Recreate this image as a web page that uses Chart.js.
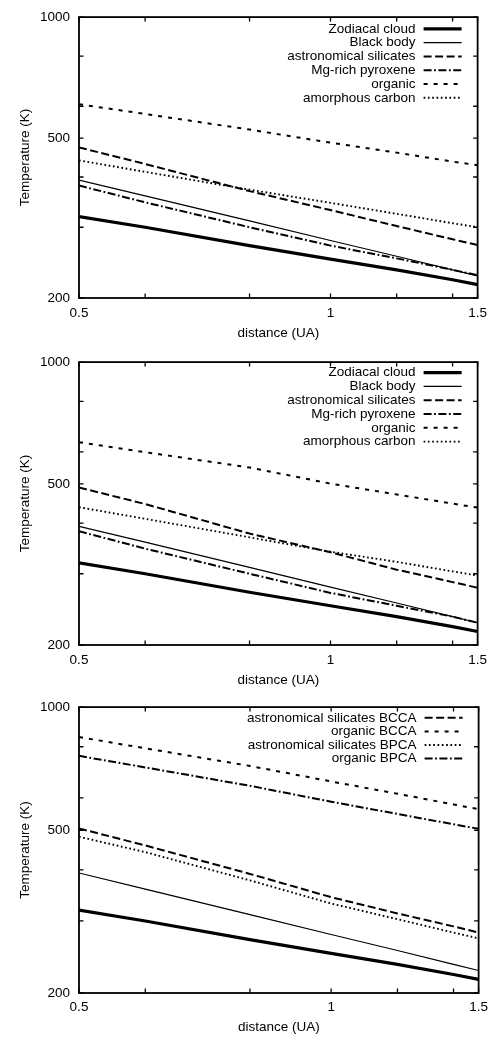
<!DOCTYPE html>
<html><head><meta charset="utf-8">
<script src="https://cdn.jsdelivr.net/npm/chart.js@4/dist/chart.umd.min.js"></script>
<style>
html,body{margin:0;padding:0;background:#fff;}
#wrap{position:relative;width:494px;height:1037px;overflow:hidden;}
canvas{position:absolute;left:0;}
</style></head><body>
<div id="wrap">
<canvas id="c1" width="494" height="345" style="top:0px"></canvas>
<canvas id="c2" width="494" height="345" style="top:345px"></canvas>
<canvas id="c3" width="494" height="347" style="top:690px"></canvas>
</div>
<script>
// ---- data (distance in UA, temperature in K) ----
const distances = [0.5, 0.6, 0.8, 1.0, 1.2, 1.4, 1.5];

const xTickValues = [0.5, 0.6, 0.8, 1, 1.2, 1.4, 1.5];
const xTickLabels = ['0.5', '', '', '1', '', '', '1.5'];
const yTickValues = [200, 300, 400, 500, 600, 800, 1000];
const yTickLabels = ['200', '', '', '500', '', '', '1000'];

const zodiacalCloud = [319, 300, 270, 250, 235, 222, 216];
const blackBody     = [393, 359, 311, 278, 254, 235, 227];

// panel 1
const p1Silicates = [474, 431, 369, 331, 302, 280, 271];
const p1Pyroxene  = [381, 346, 300, 270, 251, 235, 228];
const p1Organic   = [607, 574, 525, 487, 460, 437, 428];
const p1Carbon    = [440, 412, 372, 345, 324, 307, 300];

// panel 2
const p2Silicates = [490, 446, 377, 339, 307, 286, 277];
const p2Pyroxene  = [382, 346, 300, 269, 250, 235, 227];
const p2Organic   = [634, 599, 549, 501, 471, 447, 437];
const p2Carbon    = [438, 410, 369, 340, 321, 304, 297];

// panel 3
const p3SilicatesBCCA = [505, 459, 391, 343, 313, 291, 281];
const p3OrganicBCCA   = [845, 793, 718, 658, 614, 578, 563];
const p3SilicatesBPCA = [482, 442, 377, 331, 303, 281, 272];
const p3OrganicBPCA   = [760, 712, 642, 587, 548, 517, 504];

// ---- styles ----
const FONT = '"Liberation Sans", Arial, Helvetica, sans-serif';
const FS = 13.5;
const STYLE = {
  thick:     {borderWidth: 3.2, borderDash: []},
  thin:      {borderWidth: 1.2, borderDash: []},
  longDash:  {borderWidth: 2,   borderDash: [8, 3.5]},
  dashDot:   {borderWidth: 2,   borderDash: [8, 2.5, 1.8, 2.5]},
  shortDash: {borderWidth: 2,   borderDash: [4, 6]},
  dotted:    {borderWidth: 1.9, borderDash: [1.7, 2.6]}
};

function ds(label, values, style, inLegend) {
  return {
    label: label,
    data: distances.map((d, i) => ({x: d, y: values[i]})),
    borderColor: '#000',
    backgroundColor: '#000',
    borderWidth: STYLE[style].borderWidth,
    borderDash: STYLE[style].borderDash,
    pointRadius: 0,
    fill: false,
    tension: 0,
    inLegend: inLegend
  };
}

const framePlugin = {
  id: 'frame',
  afterDatasetsDraw(chart) {
    const {ctx, chartArea: a} = chart;
    const xs = chart.scales.x, ys = chart.scales.y;
    const L = 4.5;
    ctx.save();
    ctx.strokeStyle = '#000';
    ctx.setLineDash([]);
    ctx.lineWidth = 1.3;
    ctx.beginPath();
    xTickValues.forEach(v => {
      const p = xs.getPixelForValue(v);
      ctx.moveTo(p, a.bottom); ctx.lineTo(p, a.bottom - L);
      ctx.moveTo(p, a.top); ctx.lineTo(p, a.top + L);
    });
    yTickValues.forEach(v => {
      const p = ys.getPixelForValue(v);
      ctx.moveTo(a.left, p); ctx.lineTo(a.left + L, p);
      ctx.moveTo(a.right, p); ctx.lineTo(a.right - L, p);
    });
    ctx.stroke();
    ctx.lineWidth = 1.8;
    ctx.strokeRect(a.left, a.top, a.right - a.left, a.bottom - a.top);
    // legend
    const opt = chart.options.plugins.frame || {};
    const first = opt.first || 11.5, step = opt.step || 13.8;
    ctx.font = FS + 'px ' + FONT;
    ctx.textAlign = 'right';
    ctx.textBaseline = 'middle';
    ctx.fillStyle = '#000';
    let row = 0;
    chart.data.datasets.forEach(d => {
      if (!d.inLegend) return;
      const yy = a.top + first + row * step;
      ctx.fillText(d.label, a.right - 62, yy);
      ctx.beginPath();
      ctx.lineWidth = d.borderWidth;
      ctx.setLineDash(d.borderDash);
      ctx.moveTo(a.right - 54, yy);
      ctx.lineTo(a.right - 16, yy);
      ctx.stroke();
      row++;
    });
    ctx.restore();
  }
};

function makeChart(id, datasets, lay) {
  return new Chart(document.getElementById(id), {
    type: 'line',
    data: {datasets: datasets},
    options: {
      responsive: false,
      animation: false,
      devicePixelRatio: 1,
      layout: {padding: {top: lay.top, right: 15, left: 0, bottom: 0}},
      plugins: {legend: {display: false}, tooltip: {enabled: false}, frame: {first: lay.first, step: lay.step}},
      scales: {
        x: {
          type: 'logarithmic', min: 0.5, max: 1.5,
          afterBuildTicks: s => { s.ticks = xTickValues.map(v => ({value: v})); },
          afterFit: s => { s.height = lay.xh; },
          grid: {display: false, drawTicks: false},
          border: {display: false},
          ticks: {
            autoSkip: false, maxRotation: 0, padding: lay.xpad, color: '#000',
            font: {family: FONT, size: FS, lineHeight: 1.2},
            callback: v => { const k = xTickValues.indexOf(v); return k >= 0 ? xTickLabels[k] : ''; }
          },
          title: {display: true, text: 'distance (UA)', color: '#000',
                  font: {family: FONT, size: FS, lineHeight: 1.2}, padding: {top: 0, bottom: lay.xtp}}
        },
        y: {
          type: 'logarithmic', min: 200, max: 1000,
          afterBuildTicks: s => { s.ticks = yTickValues.map(v => ({value: v})); },
          afterFit: s => { s.width = 79; },
          grid: {display: false, drawTicks: false},
          border: {display: false},
          ticks: {
            autoSkip: false, padding: 9, color: '#000',
            font: {family: FONT, size: FS, lineHeight: 1.2},
            callback: v => { const k = yTickValues.indexOf(v); return k >= 0 ? yTickLabels[k] : ''; }
          },
          title: {display: true, text: 'Temperature (K)', color: '#000',
                  font: {family: FONT, size: FS, lineHeight: 1.2}, padding: {top: 17, bottom: 0}}
        }
      }
    },
    plugins: [framePlugin]
  });
}

makeChart('c1', [
  ds('Zodiacal cloud', zodiacalCloud, 'thick', true),
  ds('Black body', blackBody, 'thin', true),
  ds('astronomical silicates', p1Silicates, 'longDash', true),
  ds('Mg-rich pyroxene', p1Pyroxene, 'dashDot', true),
  ds('organic', p1Organic, 'shortDash', true),
  ds('amorphous carbon', p1Carbon, 'dotted', true)
], {top: 11, xh: 47, xpad: 7, xtp: 3.9, first: 11.7, step: 13.8});

makeChart('c2', [
  ds('Zodiacal cloud', zodiacalCloud, 'thick', true),
  ds('Black body', blackBody, 'thin', true),
  ds('astronomical silicates', p2Silicates, 'longDash', true),
  ds('Mg-rich pyroxene', p2Pyroxene, 'dashDot', true),
  ds('organic', p2Organic, 'shortDash', true),
  ds('amorphous carbon', p2Carbon, 'dotted', true)
], {top: 14, xh: 45, xpad: 7, xtp: 1.9, first: 10.5, step: 13.8});

makeChart('c3', [
  ds('Zodiacal cloud', zodiacalCloud, 'thick', false),
  ds('Black body', blackBody, 'thin', false),
  ds('astronomical silicates BCCA', p3SilicatesBCCA, 'longDash', true),
  ds('organic BCCA', p3OrganicBCCA, 'shortDash', true),
  ds('astronomical silicates BPCA', p3SilicatesBPCA, 'dotted', true),
  ds('organic BPCA', p3OrganicBPCA, 'dashDot', true)
], {top: 16, xh: 44, xpad: 6, xtp: 1.6, first: 10.7, step: 13.6});
</script>
</body></html>
